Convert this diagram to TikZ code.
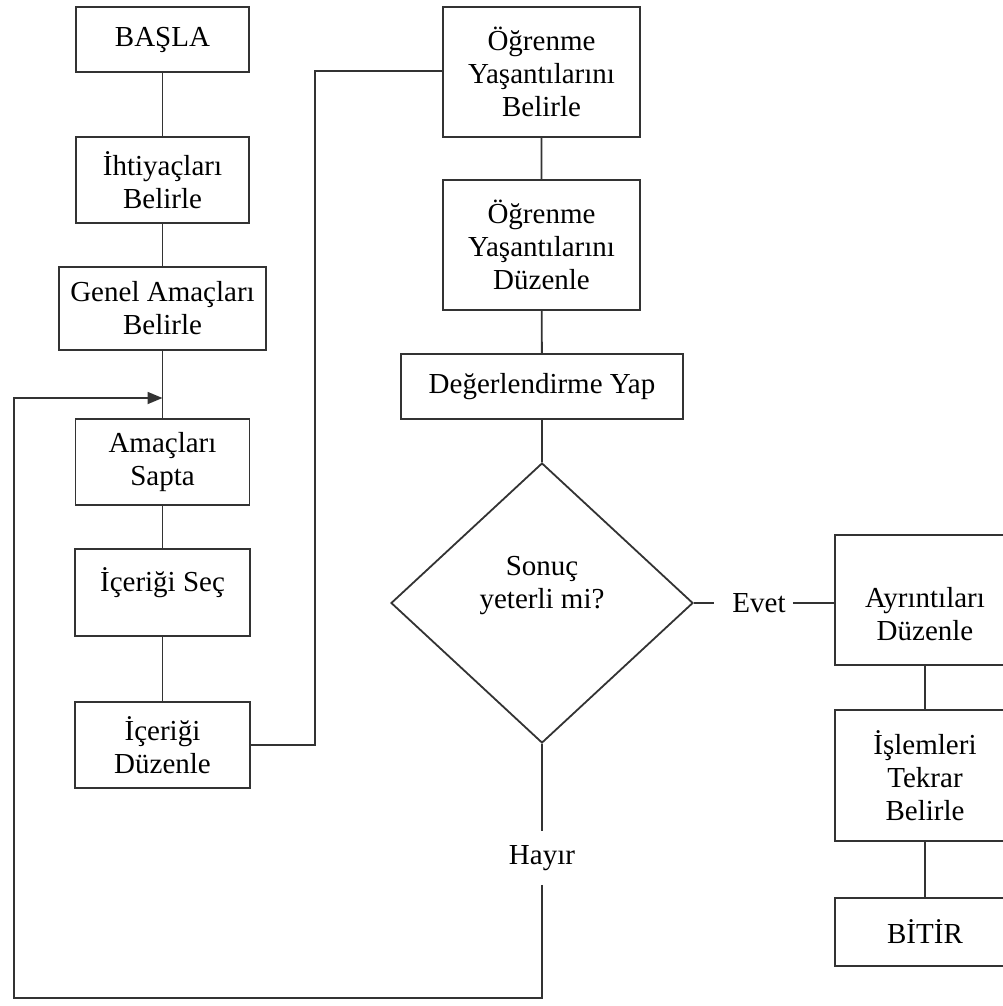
\documentclass[tikz,border=0pt]{standalone}
\usepackage{fontspec}
\setmainfont{Liberation Serif}
\usepackage{tikz}
\usetikzlibrary{shapes.geometric, arrows.meta}

\tikzset{
  kutu/.style={draw=black!80, line width=1.8pt, fill=white, align=center, inner sep=0pt},
  baglanti/.style={draw=black!80, line width=1.8pt},
}

\begin{document}
\begin{tikzpicture}[x=1pt, y=-1pt, font=\fontsize{29}{33}\selectfont]
    \useasboundingbox (0,0) rectangle (1003,1006);

    % Left column
    \node[kutu, minimum width=173pt, minimum height=65pt] (basla) at (162.5,39.5) {BAŞLA};
    \node[kutu, minimum width=173pt, minimum height=86pt] (ihtiyac) at (162.5,180) {İhtiyaçları\\Belirle};
    \node[kutu, minimum width=207pt, minimum height=83pt] (genel) at (162.5,308.5) {Genel Amaçları\\Belirle};
    \node[kutu, minimum width=174pt, minimum height=86pt] (amac) at (162.5,462) {Amaçları\\Sapta};
    \node[kutu, minimum width=175pt, minimum height=87pt] (icsec) at (162.5,592.5) {İçeriği Seç\\[-8pt]\mbox{}};
    \node[kutu, minimum width=175pt, minimum height=86pt] (icduzen) at (162.5,745) {İçeriği\\Düzenle};

    % Middle column
    \node[kutu, minimum width=197pt, minimum height=130pt] (ogrbel) at (541.5,72) {Öğrenme\\Yaşantılarını\\Belirle};
    \node[kutu, minimum width=197pt, minimum height=130pt] (ogrduz) at (541.5,245) {Öğrenme\\Yaşantılarını\\Düzenle};
    \node[kutu, minimum width=282pt, minimum height=65pt] (degerlen) at (542,386.5) {Değerlendirme Yap};
    \node[kutu, diamond, minimum width=302pt, minimum height=280pt] (karar) at (542,603) {Sonuç\\yeterli mi?\\[8pt]\mbox{}};

    % Right column
    \node[kutu, minimum width=180pt, minimum height=130pt] (ayrinti) at (925,600) {\mbox{}\\[16pt]Ayrıntıları\\Düzenle};
    \node[kutu, minimum width=180pt, minimum height=131pt] (islem) at (925,775.5) {İşlemleri\\Tekrar\\Belirle};
    \node[kutu, minimum width=180pt, minimum height=68pt] (bitir) at (925,932) {BİTİR};

    \node[inner xsep=7pt] (evet) at (759,603) {Evet};
    \node[inner xsep=0pt, inner ysep=14pt] (hayir) at (542,858) {Hayır};

    \coordinate (kirik) at (315,71);
    \coordinate (altsol) at (14,998);
    \coordinate (oksol) at (14,398);

    \draw[baglanti] (basla) -- (ihtiyac) -- (genel) -- (amac) -- (icsec) -- (icduzen);
    \draw[baglanti] (icduzen.east) -- (icduzen.east -| kirik) -- (kirik) -- (kirik -| ogrbel.west);
    \draw[baglanti] (ogrbel) -- (ogrduz) -- (degerlen) -- (karar);
    \draw[baglanti, shorten >=11pt] (karar.east) -- (evet);
    \draw[baglanti] (evet) -- (evet -| ayrinti.west);
    \draw[baglanti] (ayrinti) -- (islem) -- (bitir);

    % Loop back
    \draw[baglanti] (karar.south) -- (hayir);
    \draw[baglanti, -{Triangle[length=15pt, width=12pt]}] (hayir) -- (hayir |- altsol) -- (altsol) -- (oksol) -- (genel |- oksol);
\end{tikzpicture}
\end{document}
